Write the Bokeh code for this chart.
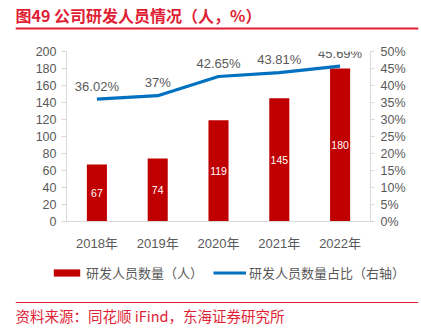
from bokeh.plotting import figure
from bokeh.models import (Range1d, LinearAxis, FixedTicker, NumeralTickFormatter, Legend, LegendItem,
                          ColumnDataSource, Label, Span, FactorRange)
from bokeh.layouts import column
from bokeh.embed import file_html
from bokeh.resources import INLINE
from bokeh.core.properties import value

years = ["2018年", "2019年", "2020年", "2021年", "2022年"]
staff = [67, 74, 119, 145, 180]
ratio = [36.02, 37, 42.65, 43.81, 45.69]
left_ticks = [0, 20, 40, 60, 80, 100, 120, 140, 160, 180, 200]
right_ticks = [0, 0.05, 0.10, 0.15, 0.20, 0.25, 0.30, 0.35, 0.40, 0.45, 0.50]

title_text = "图49  公司研发人员情况（人，%）"
source_text = "资料来源：同花顺 iFind，东海证券研究所"
bar_name = "研发人员数量（人）"
line_name = "研发人员数量占比（右轴）"

RED_T = "#E01E35"
BAR = "#C00000"
LINE = "#0070C0"
GRAY = "#595959"
AX = "#D9D9D9"
FONT = "'Liberation Sans', 'Noto Sans CJK SC'"
CJK = "'Noto Sans CJK SC'"
W = 421
NAN = float("nan")

src = ColumnDataSource(dict(
    x=years, staff=staff, ymid=[v / 2 for v in staff],
    slabel=[str(v) for v in staff],
    ratio=[v / 100 for v in ratio],
    rlabel=[f"{v:g}%" for v in ratio],
))

# ---- top title strip ----
top = figure(width=W, height=32, x_range=Range1d(0, 1), y_range=Range1d(0, 32),
             output_backend="svg", toolbar_location=None, x_axis_type=None, y_axis_type=None,
             min_border_left=15, min_border_right=3, min_border_top=0, min_border_bottom=0,
             frame_align=False)
top.grid.visible = False
top.outline_line_color = None
top.add_layout(Label(x=0, y=18, text=title_text, text_font=CJK, text_font_size="16px",
                     text_font_style="bold", text_color=RED_T, text_baseline="middle"))
top.add_layout(Span(location=4, dimension="width", line_color=RED_T, line_width=2))

# ---- main chart ----
p = figure(width=W, height=226, x_range=FactorRange(*years), y_range=Range1d(0, 200),
           output_backend="svg", toolbar_location=None,
           min_border_left=66, min_border_right=51, min_border_top=19, min_border_bottom=37,
           frame_align=False)
p.outline_line_color = None
p.grid.visible = False
p.extra_y_ranges = {"pct": Range1d(0, 0.5)}

p.vbar(x="x", top="staff", width=0.33, source=src, fill_color=BAR, line_color=None)
p.line(x="x", y="ratio", source=src, y_range_name="pct", line_color=LINE, line_width=3.2)

p.text(x="x", y="ymid", text="slabel", source=src, text_color="white", text_font=value("Liberation Sans"),
       text_font_size="10.5px", text_align="center", text_baseline="middle")
p.text(x="x", y="ratio", text="rlabel", source=src, y_range_name="pct", text_color=GRAY,
       text_font=value("Liberation Sans"), text_font_size="13px", text_align="center",
       text_baseline="alphabetic", y_offset=-13)

xa = p.xaxis[0]
xa.axis_line_color = AX
xa.major_tick_line_color = None
xa.major_tick_out = 0
xa.minor_tick_line_color = None
xa.major_label_text_font = FONT
xa.major_label_text_font_size = "13px"
xa.major_label_text_color = GRAY
xa.major_label_standoff = 14

ya = p.yaxis[0]
ya.ticker = FixedTicker(ticks=left_ticks)
ya.axis_line_color = AX
ya.major_tick_line_color = AX
ya.major_tick_out = 5
ya.major_tick_in = 0
ya.minor_tick_line_color = None
ya.major_label_text_font = "Liberation Sans"
ya.major_label_text_font_size = "12.5px"
ya.major_label_text_color = GRAY
ya.major_label_standoff = 5

ra = LinearAxis(y_range_name="pct", ticker=FixedTicker(ticks=right_ticks),
                formatter=NumeralTickFormatter(format="0%"))
ra.axis_line_color = AX
ra.major_tick_line_color = AX
ra.major_tick_out = 4
ra.major_tick_in = 0
ra.minor_tick_line_color = None
ra.major_label_text_font = "Liberation Sans"
ra.major_label_text_font_size = "12.5px"
ra.major_label_text_color = GRAY
ra.major_label_standoff = 6
p.add_layout(ra, "right")

# ---- bottom strip: legend + source ----
bot = figure(width=W, height=71, x_range=Range1d(0, 1), y_range=Range1d(0, 71),
             output_backend="svg", toolbar_location=None, x_axis_type=None, y_axis_type=None,
             min_border_left=15, min_border_right=3, min_border_top=0, min_border_bottom=0,
             frame_align=False)
bot.grid.visible = False
bot.outline_line_color = None
# legend swatches (styles only; no drawn data)
lg_src = ColumnDataSource(dict(x=[NAN], top=[NAN], y=[NAN]))
lg_bar = bot.vbar(x="x", top="top", width=0.1, source=lg_src, fill_color=BAR, line_color=None)
lg_line = bot.line(x="x", y="y", source=lg_src, line_color=LINE, line_width=3.2)
legend = Legend(items=[LegendItem(label=bar_name, renderers=[lg_bar]),
                       LegendItem(label=line_name, renderers=[lg_line])],
                orientation="horizontal", location=(35, 47),
                glyph_width=33, glyph_height=9, label_standoff=3, spacing=10,
                padding=0, margin=0, border_line_color=None, background_fill_alpha=0,
                label_text_font=CJK, label_text_font_size="13px", label_text_color=GRAY,
                label_height=15)
bot.add_layout(legend, "center")
bot.add_layout(Span(location=27, dimension="width", line_color=RED_T, line_width=1))
bot.add_layout(Label(x=0, y=14, text=source_text, text_font=CJK, text_font_size="14.5px",
                     text_color=RED_T, text_baseline="middle"))

layout = column(top, p, bot, spacing=0)
open("out.html", "w").write(file_html(layout, INLINE))
